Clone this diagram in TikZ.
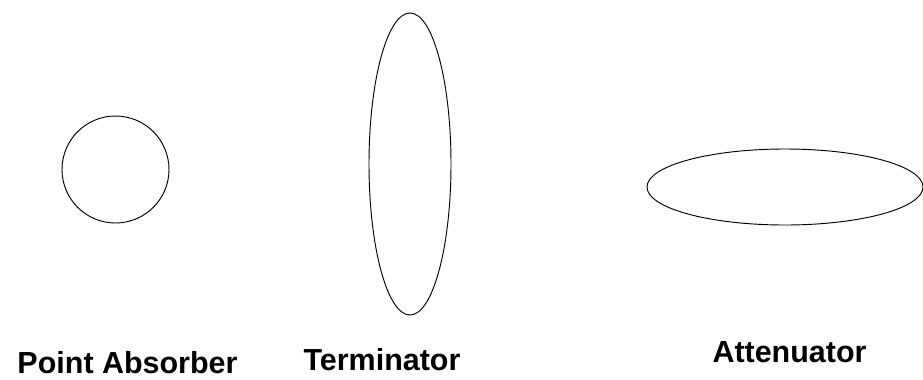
\documentclass[tikz,border=0pt]{standalone}
\usepackage{fontspec}
\setmainfont{Liberation Sans}
\usetikzlibrary{positioning,shapes.geometric}

\begin{document}
\begin{tikzpicture}[x=0.03cm,y=-0.03cm,
	body/.style={draw=black,line width=0.8pt,inner sep=0pt},
	kind/.style={anchor=base,inner sep=0pt,font=\fontsize{26}{30}\selectfont\bfseries}]
	\useasboundingbox (0,0) rectangle (923,379);
	
	% device shapes
	\node[body,circle,minimum size=107*0.03cm] (absorber) at (115.5,169.5) {};
	\node[body,ellipse,minimum width=82*0.03cm,minimum height=302*0.03cm] (terminator) at (410,164) {};
	\node[body,ellipse,minimum width=276*0.03cm,minimum height=76*0.03cm] (attenuator) at (785,187) {};
	
	% labels
	\node[kind] (absorberlabel) at (127.5,373) {Point Absorber};
	\node[kind] (terminatorlabel) at (382,370) {Terminator};
	\node[kind] (attenuatorlabel) at (789.5,362) {Attenuator};
\end{tikzpicture}
\end{document}
